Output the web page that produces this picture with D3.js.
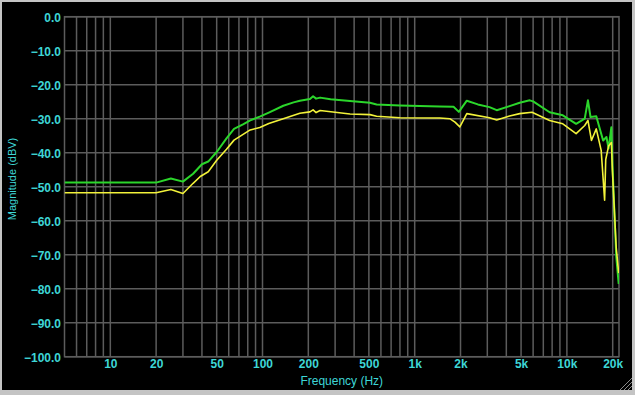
<!DOCTYPE html>
<html>
<head>
<meta charset="utf-8">
<script src="https://cdn.jsdelivr.net/npm/d3@7"></script>
<style>
    html, body { margin: 0; padding: 0; background: #c4c4c4; }
    svg { display: block; }
</style>
</head>
<body>
<div id="graph"></div>
<script>
// measured response, [frequency Hz, dBV]
const greenSeries = [
    [5, -48.8], [20, -48.8], [25, -47.6], [30, -48.5], [35, -46.2], [40, -43.4], [44, -42.6],
    [50, -39.8], [58, -35.8], [65, -33], [75, -31.6], [83, -30.5], [96, -29.4], [110, -28.2],
    [137, -26.2], [160, -25.2], [176, -24.7], [205, -24.2], [215, -23.4], [225, -24.1],
    [239, -23.8], [280, -24.3], [376, -24.8], [508, -25.3], [562, -25.8], [800, -26.1],
    [1460, -26.4], [1800, -26.5], [1950, -28], [2200, -24.7], [2600, -25.8], [3100, -26.6],
    [3460, -27.5], [4200, -26.3], [4900, -25.3], [5700, -24.6], [6000, -24.9], [7700, -28.1],
    [9400, -29], [11500, -31.5], [13100, -30], [13750, -24.6], [14300, -29.5], [15600, -29.3],
    [17300, -36.4], [18200, -35.4], [18800, -38.8], [19600, -32.5], [19900, -43], [21100, -70.6],
    [21900, -78.6]
];

const yellowSeries = [
    [5, -51.8], [20, -51.8], [25, -50.8], [30, -52], [35, -49], [39, -47], [44, -45.6],
    [50, -42.2], [58, -39], [65, -36.3], [83, -33.3], [96, -32.6], [110, -31.4], [137, -30],
    [176, -28.4], [205, -28], [215, -27.4], [225, -28.2], [239, -27.6], [376, -28.6],
    [508, -28.8], [562, -29.3], [800, -29.7], [1460, -29.8], [1700, -30], [1840, -31],
    [1980, -32.4], [2200, -28.5], [3100, -29.7], [3460, -30.4], [4200, -29.2], [4900, -28.5],
    [5900, -28.1], [7700, -30.5], [9400, -31.5], [11500, -34.4], [13100, -32], [13750, -30.5],
    [14500, -36.4], [15600, -33], [16800, -39.3], [17700, -54], [18000, -42], [18800, -38],
    [19600, -37], [19900, -45], [21100, -68], [21900, -75.4]
];

const xTickValues = [10, 20, 50, 100, 200, 500, 1000, 2000, 5000, 10000, 20000];
const xTickLabels = ['10', '20', '50', '100', '200', '500', '1k', '2k', '5k', '10k', '20k'];
const yTickValues = [0, -10, -20, -30, -40, -50, -60, -70, -80, -90, -100];

const width = 635;
const height = 395;

const plot = {left: 64.5, right: 619, top: 16.7, bottom: 356.7};

const labelColor = '#3ed6d6';
const gridColor = '#5c5c5c';

let svg = d3.select('#graph').append('svg')
    .attr('width', width)
    .attr('height', height);

// window frame
svg.append('rect')
    .attr('x', 2).attr('y', 2)
    .attr('width', 630).attr('height', 388)
    .attr('fill', '#000');

let x = d3.scaleLog().domain([5, 22000]).range([plot.left, plot.right]);
let y = d3.scaleLinear().domain([-100, 0]).range([plot.bottom, plot.top]);

// minor + major vertical grid lines 6..9, 10..90, ...
let gridFreqs = [];
for (let decade = 1; decade <= 10000; decade *= 10) {
    for (let m = 1; m <= 9; m++) {
        let f = m * decade;
        if (f > 5 && f <= 20000) gridFreqs.push(f);
    }
}

let grid = svg.append('g').attr('stroke', gridColor).attr('stroke-width', 1.5);

grid.selectAll('line.v')
    .data(gridFreqs)
    .enter().append('line')
    .attr('class', 'v')
    .attr('x1', d => x(d)).attr('x2', d => x(d))
    .attr('y1', plot.top).attr('y2', plot.bottom);

grid.selectAll('line.h')
    .data(yTickValues)
    .enter().append('line')
    .attr('class', 'h')
    .attr('x1', plot.left).attr('x2', plot.right)
    .attr('y1', d => y(d)).attr('y2', d => y(d));

grid.append('rect')
    .attr('x', plot.left).attr('y', plot.top)
    .attr('width', plot.right - plot.left)
    .attr('height', plot.bottom - plot.top)
    .attr('fill', 'none');

// axes (text only, lines come from the grid)
let xAxis = d3.axisBottom(x)
    .tickValues(xTickValues)
    .tickFormat((d, i) => xTickLabels[i])
    .tickSize(0)
    .tickPadding(3);

let yAxis = d3.axisLeft(y)
    .tickValues(yTickValues)
    .tickFormat(d3.format('.1f'))
    .tickSize(0)
    .tickPadding(3);

let gx = svg.append('g')
    .attr('transform', 'translate(0,' + plot.bottom + ')')
    .call(xAxis);

let gy = svg.append('g')
    .attr('transform', 'translate(' + (plot.left - 0.5) + ',0)')
    .call(yAxis);

[gx, gy].forEach(g => {
    g.select('.domain').remove();
    g.selectAll('text')
        .attr('fill', labelColor)
        .style('font-family', '"Liberation Sans", Arial, sans-serif')
        .style('font-size', '12px')
        .style('font-weight', 'bold');
});

gy.selectAll('text').attr('dy', '0.36em');

svg.append('text')
    .attr('x', (plot.left + plot.right) / 2)
    .attr('y', 385)
    .attr('text-anchor', 'middle')
    .attr('fill', labelColor)
    .style('font-family', '"Liberation Sans", Arial, sans-serif')
    .style('font-size', '12px')
    .text('Frequency (Hz)');

svg.append('text')
    .attr('transform', 'translate(16,179) rotate(-90)')
    .attr('text-anchor', 'middle')
    .attr('fill', labelColor)
    .style('font-family', '"Liberation Sans", Arial, sans-serif')
    .style('font-size', '11px')
    .text('Magnitude (dBV)');

// curves
let line = d3.line()
    .x(d => x(d[0]))
    .y(d => y(d[1]));

svg.append('clipPath').attr('id', 'plot-clip')
    .append('rect')
    .attr('x', plot.left).attr('y', plot.top)
    .attr('width', plot.right - plot.left)
    .attr('height', plot.bottom - plot.top);

svg.append('path')
    .datum(greenSeries)
    .attr('clip-path', 'url(#plot-clip)')
    .attr('fill', 'none')
    .attr('stroke', '#2bd62b')
    .attr('stroke-width', 2)
    .attr('stroke-linejoin', 'round')
    .attr('d', line);

svg.append('path')
    .datum(yellowSeries)
    .attr('clip-path', 'url(#plot-clip)')
    .attr('fill', 'none')
    .attr('stroke', '#f2f23a')
    .attr('stroke-width', 1.6)
    .attr('stroke-linejoin', 'round')
    .attr('d', line);

// resize grip bottom-right
let grip = svg.append('g').attr('stroke', '#8a8a8a').attr('stroke-width', 1);
[4, 8, 12].forEach(s => {
    grip.append('line')
        .attr('x1', 632 - s).attr('y1', 390)
        .attr('x2', 632).attr('y2', 390 - s);
});
</script>
</body>
</html>
